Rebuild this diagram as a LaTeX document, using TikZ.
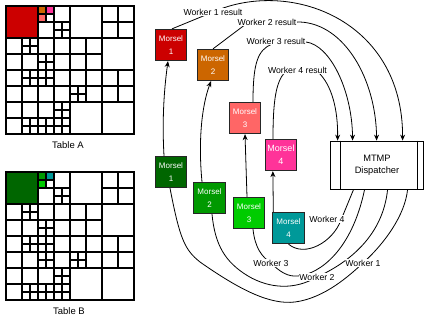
\documentclass[tikz,border=0pt]{standalone}
\usepackage{fontspec}
\setmainfont{Liberation Sans}
\usetikzlibrary{arrows.meta,calc}
\definecolor{mred}{HTML}{CC0000}
\definecolor{morange}{HTML}{CC6600}
\definecolor{msalmon}{HTML}{FF6666}
\definecolor{mpink}{HTML}{FF3399}
\definecolor{mdgreen}{HTML}{006600}
\definecolor{mgreen}{HTML}{009900}
\definecolor{mlgreen}{HTML}{00CC00}
\definecolor{mteal}{HTML}{009999}
\pgfdeclarelayer{bglayer}
\pgfdeclarelayer{edgelayer}
\pgfsetlayers{bglayer,edgelayer,main}
\newcommand{\gridcells}[2]{%
  \foreach \c/\r in {0/0,4/0,6/2,4/6,6/6} \draw[gridline] (\c,\r) rectangle +(2,2);
  \foreach \c/\r in {3/0,6/0,7/0,2/1,6/1,7/1,0/2,2/2,3/2,4/2,5/2,0/3,1/3,3/3,4/3,5/3,0/4,3/4,4/4,5/4,6/4,7/4,0/5,1/5,3/5,5/5,6/5,7/5,0/6,1/6,2/6,0/7,#1}
    \draw[gridline] (\c,\r) rectangle +(1,1);
  \foreach \c/\r in {2/0,3/1,1/2,2/3,1/4,2/4,4/5,3/6,1/7,2/7,3/7,#2}
    {\draw[gridline] (\c,\r) rectangle +(1,1);
     \draw[gridline] (\c+0.5,\r) -- +(0,1);
     \draw[gridline] (\c,\r+0.5) -- +(1,0);}
}
\begin{document}
\begin{tikzpicture}[x=1pt,y=-1pt,
  gridline/.style={line width=1.1pt,black},
  morsel/.style={draw=black!85,line width=0.8pt,minimum width=31.5pt,minimum height=31.5pt,inner sep=0pt,text=white,align=center,font=\fontsize{8}{13}\selectfont},
  lbl/.style={fill=white,inner sep=0.8pt,font=\fontsize{8.7}{10}\selectfont},
  edge/.style={line width=0.8pt,black},
  arr/.style={-{Stealth[length=6pt,width=5pt]}}]
\useasboundingbox (0,0) rectangle (424,324);
\begin{pgfonlayer}{bglayer}
\fill[white] (0,0) rectangle (424,324);
\end{pgfonlayer}

% Table A
\begin{scope}[x=16pt,y=-16pt,shift={(6pt,-6pt)}]
  \fill[mred] (0,0) rectangle (2,2);
  \fill[morange] (2,0) rectangle (2.5,0.5);
  \fill[mpink] (2.5,0) rectangle (3,0.5);
  \fill[msalmon] (2,0.5) rectangle (2.5,1);
  \gridcells{2/5}{3/7}
\end{scope}
% Table B
\begin{scope}[x=16pt,y=-16pt,shift={(6pt,-172pt)}]
  \fill[mdgreen] (0,0) rectangle (2,2);
  \fill[mgreen] (2,0) rectangle (2.5,0.5);
  \fill[mteal] (2.5,0) rectangle (3,0.5);
  \fill[mlgreen] (2,0.5) rectangle (2.5,1);
  \gridcells{0/7}{2/5}
\end{scope}
\node[font=\fontsize{9.5}{11}\selectfont] (ta) at (68,145) {Table A};
\node[font=\fontsize{9.5}{11}\selectfont] (tb) at (69,311) {Table B};

% Morsels
\node[morsel,fill=mred] (A1) at (171,45) {Morsel\\1};
\node[morsel,fill=morange] (A2) at (213,65) {Morsel\\2};
\node[morsel,fill=msalmon] (A3) at (245,118) {Morsel\\3};
\node[morsel,fill=mpink,font=\fontsize{9}{13}\selectfont] (A4) at (281,155) {Morsel\\4};
\node[morsel,fill=mdgreen] (B1) at (171,172) {Morsel\\1};
\node[morsel,fill=mgreen] (B2) at (209.5,198) {Morsel\\2};
\node[morsel,fill=mlgreen] (B3) at (249,213) {Morsel\\3};
\node[morsel,fill=mteal] (B4) at (288.5,228) {Morsel\\4};

% Dispatcher
\node[draw,line width=0.8pt,minimum width=93pt,minimum height=48pt,inner sep=0pt,align=center,font=\fontsize{9.3}{12}\selectfont] (D) at (377,165) {MTMP\\Dispatcher};
\draw[line width=0.8pt] ($(D.north west)+(10,0)$) -- ($(D.south west)+(10,0)$);
\draw[line width=0.8pt] ($(D.north east)+(-7,0)$) -- ($(D.south east)+(-7,0)$);

% Labels
\node[lbl] (r1) at (213,12) {Worker 1 result};
\node[lbl] (r2) at (267,22) {Worker 2 result};
\node[lbl] (r3) at (276,41) {Worker 3 result};
\node[lbl] (r4) at (297.5,70) {Worker 4 result};
\node[lbl] (w1) at (363,263) {Worker 1};
\node[lbl] (w2) at (317,277) {Worker 2};
\node[lbl] (w3) at (271,263) {Worker 3};
\node[lbl] (w4) at (327,219) {Worker 4};

\begin{pgfonlayer}{edgelayer}
% results to dispatcher
\draw[edge,arr] ($(A1.north)+(1,0)$) -- (r1.center) .. controls (290,-22) and (403,20) .. ($(D.north west)+(72.5,0)$);
\draw[edge,arr] (A2.north) -- (246,24) -- (300,22) .. controls (345,24) and (376,80) .. ($(D.north west)+(46.5,0)$);
\draw[edge,arr] ($(A3.north)+(8,0)$) .. controls (253,62) and (258,50) .. (272,44) -- (306,42) .. controls (330,45) and (352,90) .. ($(D.north west)+(22.5,0)$);
\draw[edge,arr] ($(A4.north)+(-8,0)$) .. controls (273,100) and (276,82) .. (285,72) -- (318,72) .. controls (332,85) and (338,110) .. ($(D.north west)+(7.5,0)$);
% morsel to morsel
\draw[edge,arr] ($(B1.north)+(-7,0)$) .. controls (162,120) and (164,90) .. ($(A1.south)+(-3,0)$);
\draw[edge,arr] ($(B2.north)+(-7.5,0)$) .. controls (198,140) and (202,105) .. ($(A2.south)+(-2,0)$);
\draw[edge,arr] ($(B3.north)+(-2,0)$) -- (A3.south);
\draw[edge,arr] ($(B4.north west)+(1,0)$) -- ($(A4.south west)+(8,0)$);
% dispatcher to morsels
\draw[edge] ($(D.south west)+(23.5,0)$) -- (341,220) .. controls (333,242) and (305,258) .. (B4.south);
\draw[edge] ($(B3.south)+(4,0)$) .. controls (255,248) and (262,257) .. (w3.center) .. controls (280,272) and (288,277) .. (298,276) .. controls (320,274) and (352,250) .. ($(D.south west)+(34.5,0)$);
\draw[edge] ($(B2.south)+(2.5,0)$) .. controls (215,245) and (225,262) .. (248,276) .. controls (270,289) and (295,290) .. (w2.center) .. controls (350,262) and (383,235) .. ($(D.south west)+(57.5,0)$);
\draw[edge] ($(B1.south)+(-1,0)$) .. controls (180,240) and (185,250) .. (200,262) .. controls (240,290) and (270,305) .. (295,302) .. controls (325,298) and (350,275) .. (w1.center) .. controls (385,243) and (405,215) .. ($(D.south west)+(77.5,0)$);
\end{pgfonlayer}
\end{tikzpicture}
\end{document}
